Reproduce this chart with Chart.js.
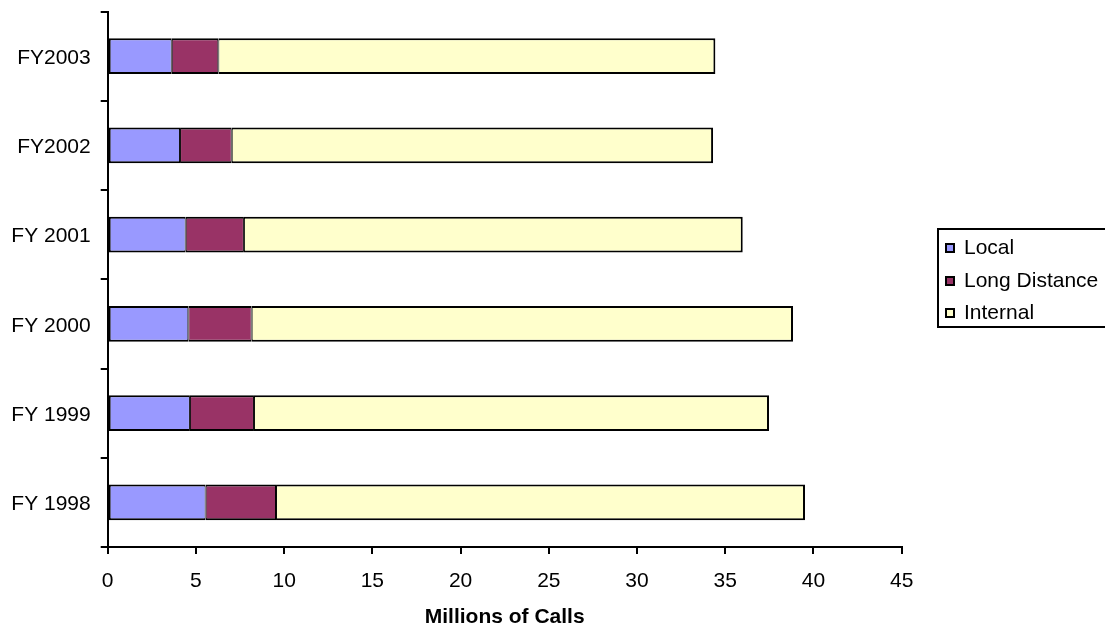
<!DOCTYPE html>
<html>
<head>
<meta charset="utf-8">
<script src="https://cdn.jsdelivr.net/npm/chart.js@4/dist/chart.umd.min.js"></script>
<style>
  body { margin: 0; background: #fff; }
  canvas { display: block; }
</style>
</head>
<body>
<canvas id="callsChart" width="1105" height="628"></canvas>
<script>
// Millions of calls per fiscal year, split by call type
const years = ["FY 1998", "FY 1999", "FY 2000", "FY 2001", "FY2002", "FY2003"];
const local = [5.55, 4.66, 4.57, 4.42, 4.10, 3.63];
const longDistance = [3.99, 3.63, 3.59, 3.30, 2.93, 2.64];
const internal = [29.98, 29.19, 30.68, 28.27, 27.28, 28.17];
const xTicks = [0, 5, 10, 15, 20, 25, 30, 35, 40, 45];

const FONT = "'Liberation Sans', Arial, sans-serif";
Chart.defaults.font.family = FONT;
Chart.defaults.color = "#000";

// boxed legend drawn to the right of the plot
const boxLegend = {
  id: "boxLegend",
  afterDraw(chart) {
    const ctx = chart.ctx;
    const rows = [248, 281, 313];
    ctx.save();
    ctx.lineWidth = 2;
    ctx.strokeStyle = "#000";
    ctx.strokeRect(938, 229, 200, 98);
    ctx.font = "21px " + FONT;
    ctx.textBaseline = "middle";
    chart.data.datasets.forEach((ds, i) => {
      const y = rows[i];
      ctx.fillStyle = ds.backgroundColor;
      ctx.fillRect(945, y - 5, 10, 10);
      ctx.strokeRect(946, y - 4, 8, 8);
      ctx.fillStyle = "#000";
      ctx.fillText(ds.label, 964, y);
    });
    ctx.restore();
  },
};

const segment = (label, data, color, left, right) => ({
  label: label,
  data: data,
  backgroundColor: color,
  borderColor: "#000",
  borderWidth: { top: 2, bottom: 2, left: left, right: right },
  borderSkipped: false,
  barPercentage: 0.403,
  categoryPercentage: 1,
});

new Chart(document.getElementById("callsChart"), {
  type: "bar",
  data: {
    labels: years,
    datasets: [
      segment("Local", local, "#9999FF", 2, 1),
      segment("Long Distance", longDistance, "#993366", 1, 1),
      segment("Internal", internal, "#FFFFCC", 1, 2),
    ],
  },
  options: {
    indexAxis: "y",
    responsive: false,
    animation: false,
    layout: { padding: { top: 11.5, right: 203.3, left: 0, bottom: 0 } },
    plugins: {
      legend: { display: false },
      tooltip: { enabled: false },
    },
    scales: {
      x: {
        stacked: true,
        min: 0,
        max: 45,
        afterBuildTicks: (scale) => {
          scale.ticks = xTicks.map((v) => ({ value: v }));
        },
        afterFit: (scale) => {
          scale.height = 81;
          scale.paddingLeft = 0;
          scale.paddingRight = 0;
        },
        border: { color: "#000", width: 2 },
        grid: {
          drawOnChartArea: false,
          color: "#000",
          lineWidth: 2,
          tickLength: 7,
        },
        ticks: { font: { size: 21 }, padding: 15, maxRotation: 0 },
        title: {
          display: true,
          text: "Millions of Calls",
          font: { size: 21, weight: "bold", lineHeight: 1 },
          padding: { top: 0, bottom: 0 },
        },
      },
      y: {
        stacked: true,
        reverse: true,
        afterFit: (scale) => {
          scale.width = 107.7;
          scale.paddingTop = 0;
          scale.paddingBottom = 0;
        },
        border: { color: "#000", width: 2 },
        grid: {
          drawOnChartArea: false,
          offset: true,
          color: "#000",
          lineWidth: 2,
          tickLength: 7,
        },
        ticks: { font: { size: 21 }, padding: 10, labelOffset: 2 },
      },
    },
  },
  plugins: [boxLegend],
});
</script>
</body>
</html>
